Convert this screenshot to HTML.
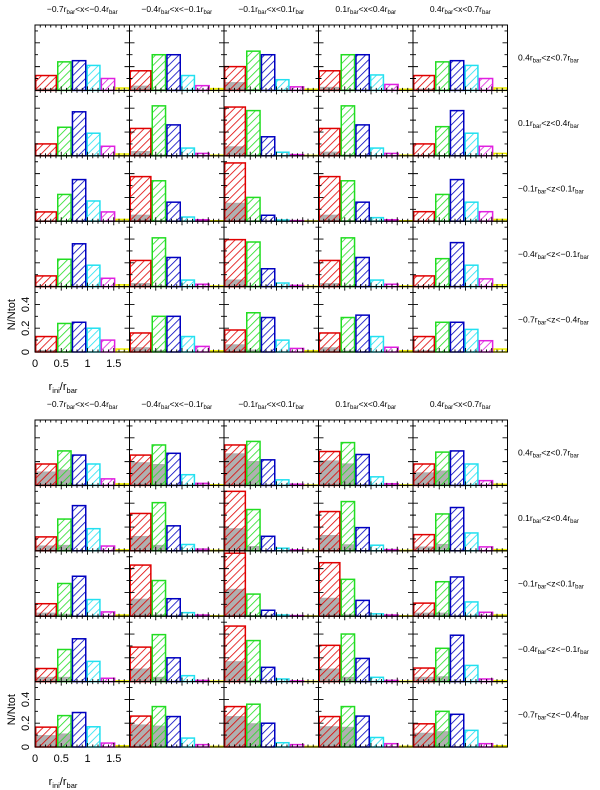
<!DOCTYPE html>
<html><head><meta charset="utf-8"><style>
html,body{margin:0;padding:0;background:#fff;}
svg{display:block;font-family:"Liberation Sans",sans-serif;}
</style></head><body>
<svg id="fig" width="600" height="790" viewBox="0 0 600 790">
<defs>
<pattern id="h-red" width="5.5" height="5.5" patternUnits="userSpaceOnUse" patternTransform="rotate(45)"><line x1="0" y1="0" x2="0" y2="6" stroke="#e00000" stroke-width="1.6"/></pattern>
<pattern id="h-green" width="5.5" height="5.5" patternUnits="userSpaceOnUse" patternTransform="rotate(45)"><line x1="0" y1="0" x2="0" y2="6" stroke="#22dd22" stroke-width="1.6"/></pattern>
<pattern id="h-blue" width="5.5" height="5.5" patternUnits="userSpaceOnUse" patternTransform="rotate(45)"><line x1="0" y1="0" x2="0" y2="6" stroke="#0000c0" stroke-width="1.6"/></pattern>
<pattern id="h-cyan" width="5.5" height="5.5" patternUnits="userSpaceOnUse" patternTransform="rotate(45)"><line x1="0" y1="0" x2="0" y2="6" stroke="#22e0f0" stroke-width="1.6"/></pattern>
<pattern id="h-magenta" width="5.5" height="5.5" patternUnits="userSpaceOnUse" patternTransform="rotate(45)"><line x1="0" y1="0" x2="0" y2="6" stroke="#e020e0" stroke-width="1.6"/></pattern>
<pattern id="h-yellow" width="5.5" height="5.5" patternUnits="userSpaceOnUse" patternTransform="rotate(45)"><line x1="0" y1="0" x2="0" y2="6" stroke="#f0f000" stroke-width="1.6"/></pattern>
</defs>
<g id="marks"></g>
</svg>
<script>
// bin edges in r_ini/r_bar
const binEdges = [0, 0.42, 0.7, 0.98, 1.25, 1.53, 1.8];
const colTitles = ["\u22120.7", "\u22120.4", "\u22120.1", "0.1", "0.4"];
const colTitlesEnd = ["\u22120.4", "\u22120.1", "0.1", "0.4", "0.7"];
const rowLo = ["0.4", "0.1", "\u22120.1", "\u22120.4", "\u22120.7"];
const rowHi = ["0.7", "0.4", "0.1", "\u22120.1", "\u22120.4"];
const xTickLabels = ["0", "0.5", "1", "1.5"];
const xTickValues = [0, 0.5, 1, 1.5];
const yTickLabels = ["0", "0.2", "0.4"];
const yTickValues = [0, 0.2, 0.4];
// 50 panels: top block (25, row-major) then bottom block (25)
const redVals = [.125,.165,.20,.165,.125, .10,.23,.41,.23,.10, .078,.375,.49,.375,.08, .09,.22,.395,.22,.09, .13,.16,.185,.16,.13,
 .18,.255,.34,.285,.18, .117,.314,.5,.33,.136, .105,.43,.53,.45,.11, .11,.29,.467,.305,.114, .167,.26,.34,.256,.195];
const greenVals = [.24,.30,.33,.30,.24, .24,.42,.38,.42,.245, .225,.34,.20,.34,.225, .23,.41,.375,.41,.235, .24,.30,.33,.29,.25,
 .29,.34,.37,.36,.28, .267,.405,.347,.414,.31, .275,.30,.186,.31,.29, .27,.395,.345,.4,.28, .264,.34,.36,.34,.3];
const blueVals = [.25,.30,.30,.30,.25, .37,.26,.16,.26,.38, .35,.16,.05,.16,.35, .36,.245,.15,.245,.37, .25,.30,.29,.31,.25,
 .255,.27,.215,.26,.29, .38,.21,.122,.195,.364, .336,.147,.05,.133,.33, .36,.2,.12,.195,.39, .29,.256,.2,.26,.275];
const cyanVals = [.21,.125,.09,.13,.21, .19,.065,.03,.065,.19, .17,.035,.01,.03,.16, .18,.055,.03,.055,.18, .20,.13,.10,.13,.19,
 .18,.09,.047,.072,.18, .186,.053,.022,.047,.15, .14,.03,.01,.02,.12, .17,.05,.022,.036,.136, .17,.075,.036,.08,.14];
const magentaVals = [.10,.04,.03,.05,.10, .08,.02,.01,.02,.08, .078,.012,.005,.012,.08, .07,.02,.01,.02,.065, .10,.047,.03,.04,.095,
 .055,.017,.01,.014,.04, .04,.014,.008,.01,.033, .036,.01,.005,.01,.033, .028,.01,.006,.01,.022, .033,.02,.02,.028,.028];
const yellowVals = [.02,.015,.01,.01,.02, .015,.005,.003,.005,.02, .015,.004,.002,.004,.015, .015,.005,.003,.005,.015, .025,.01,.01,.01,.025,
 .013,.005,.003,.004,.01, .008,.004,.002,.004,.01, .01,.003,.002,.003,.01, .006,.004,.002,.003,.008, .01,.005,.005,.006,.01];
const grayRedVals = [.015,.04,.07,.03,.015, .008,.04,.08,.035,.008, .006,.055,.155,.055,.006, .006,.03,.06,.03,.006, .017,.04,.065,.04,.015,
 .117,.195,.27,.21,.11, .045,.125,.19,.133,.036, .03,.147,.23,.155,.03, .04,.11,.172,.11,.04, .1,.19,.26,.175,.12];
const grayGreenVals = [.005,.01,.012,.01,.005, .004,.01,.01,.01,.004, .004,.008,.006,.008,.004, .004,.01,.008,.01,.004, .005,.015,.02,.012,.005,
 .133,.18,.205,.185,.125, .05,.05,.04,.055,.058, .02,.015,.01,.015,.03, .04,.04,.014,.04,.045, .114,.18,.2,.17,.133];

const NS = "http://www.w3.org/2000/svg";
const root = document.getElementById("marks");
const L = 35, PW = 94.5, PH = 65.4, XMAX = 1.8, YMAX = 0.55;
const blockTops = [25, 420];
const colors = ["#e00000","#22dd22","#0000c0","#22e0f0","#e020e0","#f0f000"];
const pats = ["red","green","blue","cyan","magenta","yellow"];
const series = [redVals, greenVals, blueVals, cyanVals, magentaVals, yellowVals];

function mk(tag, attrs, parent) {
  const e = document.createElementNS(NS, tag);
  for (const k in attrs) e.setAttribute(k, attrs[k]);
  (parent || root).appendChild(e);
  return e;
}
function xs(v, col) { return L + col * PW + v / XMAX * PW; }
function ys(v, block, row) { return blockTops[block] + (row + 1) * PH - v / YMAX * PH; }

function subText(parent, x, y, parts, anchor) {
  const t = mk("text", {x: x, y: y, "font-size": "8.5", "text-anchor": anchor || "middle", fill: "#000"}, parent);
  parts.forEach(p => {
    const s = mk("tspan", {}, t);
    if (p[1]) { s.setAttribute("font-size", "6"); s.setAttribute("dy", "2"); }
    else if (p[2]) { s.setAttribute("dy", "-2"); }
    s.textContent = p[0];
  });
  return t;
}

for (let b = 0; b < 2; b++) {
  const bg = mk("g", {});
  
  
  for (let r = 0; r < 5; r++) {
    for (let c = 0; c < 5; c++) {
      const i = b * 25 + r * 5 + c;
      const g = mk("g", {}, bg);
      
      
      const base = ys(0, b, r);
      const gr = mk("rect", {x: xs(binEdges[0], c), y: ys(grayRedVals[i], b, r), width: xs(binEdges[1], c) - xs(binEdges[0], c), height: base - ys(grayRedVals[i], b, r), fill: "#b0b0b0"}, g);
      
      
      const gg = mk("rect", {x: xs(binEdges[1], c), y: ys(grayGreenVals[i], b, r), width: xs(binEdges[2], c) - xs(binEdges[1], c), height: base - ys(grayGreenVals[i], b, r), fill: "#b0b0b0"}, g);
      
      
      for (let k = 0; k < 6; k++) {
        const v = series[k][i];
        const x0 = xs(binEdges[k], c), x1 = xs(binEdges[k + 1], c), y0 = ys(v, b, r);
        const bar = mk("rect", {x: x0 + 0.7, y: y0, width: x1 - x0 - 1.4, height: base - y0, fill: "url(#h-" + pats[k] + ")", stroke: colors[k], "stroke-width": "1.5"}, g);
        
        
      }
      const px = L + c * PW, py = blockTops[b] + r * PH;
      const fr = mk("rect", {x: px, y: py, width: PW, height: PH, fill: "none", stroke: "#000", "stroke-width": "1"}, g);
      
      
      let d = "";
      for (let t = 1; t < 18; t++) {
        const tx = xs(t / 10, c), len = (t % 5 === 0) ? 4 : 2.5;
        d += "M" + tx + " " + (py + PH) + "v" + (-len) + "M" + tx + " " + py + "v" + len;
      }
      for (let t = 1; t <= 5; t++) {
        const ty = ys(t / 10, b, r), len = (t % 2 === 0) ? 5 : 3;
        d += "M" + px + " " + ty + "h" + len + "M" + (px + PW) + " " + ty + "h" + (-len);
      }
      const tk = mk("path", {d: d, stroke: "#000", "stroke-width": "0.9", fill: "none"}, g);
      
      
    }
  }
  for (let c = 0; c < 5; c++) {
    const t = subText(bg, L + c * PW + PW / 2, blockTops[b] - 13, [[colTitles[c] + "r"], ["bar", 1], ["<x<", 0, 1], [colTitlesEnd[c] + "r"], ["bar", 1]]);
    
    
  }
  for (let r = 0; r < 5; r++) {
    const t = subText(bg, 518, blockTops[b] + r * PH + PH / 2 + 3, [[rowLo[r] + "r"], ["bar", 1], ["<z<", 0, 1], [rowHi[r] + "r"], ["bar", 1]], "start");
    
    
  }
  xTickValues.forEach((v, j) => {
    const t = mk("text", {x: xs(v, 0), y: ys(0, b, 4) + 15, "font-size": "11", "text-anchor": "middle"}, bg);
    t.textContent = xTickLabels[j];
    
    
  });
  yTickValues.forEach((v, j) => {
    const yy = ys(v, b, 4), xx = 29;
    const t = mk("text", {x: xx, y: yy, "font-size": "11", "text-anchor": "middle", transform: "rotate(-90 " + xx + " " + yy + ")"}, bg);
    t.textContent = yTickLabels[j];
    
    
  });
  const yc = blockTops[b] + 4 * PH + 28, xc = 15;
  const yt = mk("text", {x: xc, y: yc, "font-size": "11", "text-anchor": "middle", transform: "rotate(-90 " + xc + " " + yc + ")"}, bg);
  yt.textContent = "N/Ntot";
  
  
  const xt = mk("text", {x: 63, y: ys(0, b, 4) + 38, "font-size": "11", "text-anchor": "middle"}, bg);
  [["r", 0], ["ini", 1], ["/r", 2], ["bar", 1]].forEach(p => {
    const s = mk("tspan", {}, xt);
    if (p[1] === 1) { s.setAttribute("font-size", "7.5"); s.setAttribute("dy", "3"); }
    if (p[1] === 2) { s.setAttribute("dy", "-3"); }
    s.textContent = p[0];
  });
  
  
}
</script>
</body></html>
